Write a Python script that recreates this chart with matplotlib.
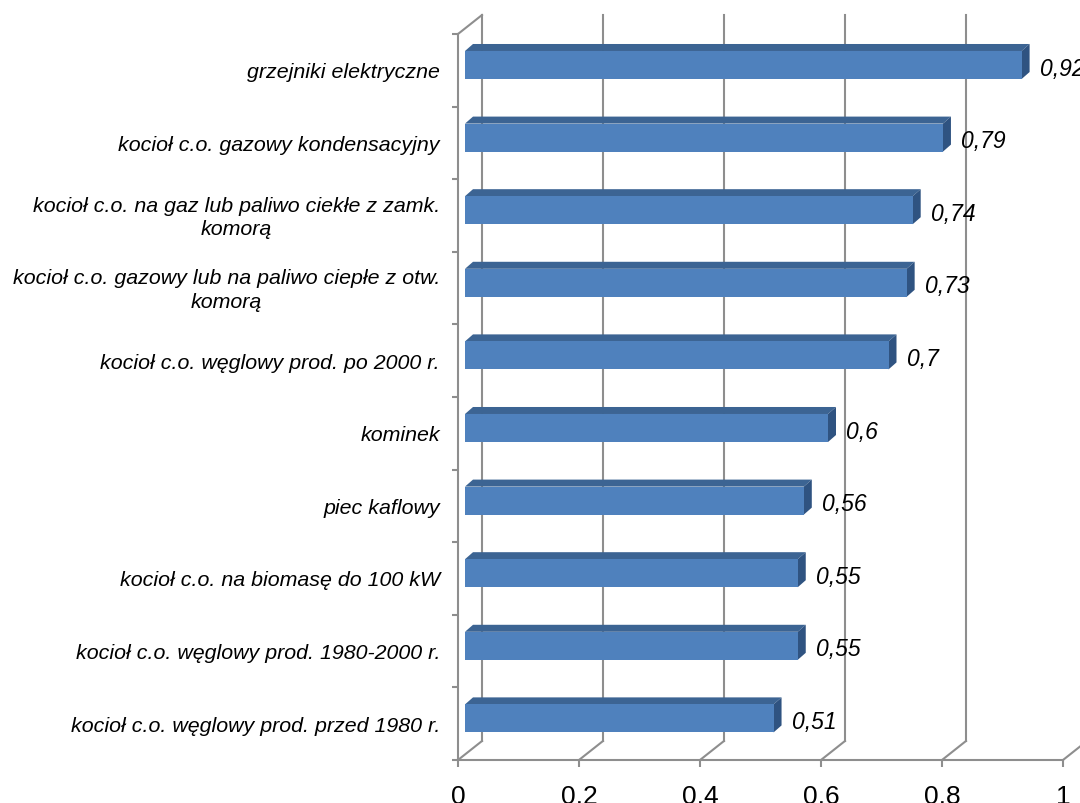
import matplotlib
matplotlib.use("Agg")
import matplotlib.pyplot as plt
from matplotlib.patches import Polygon, Rectangle

plt.rcParams['font.family'] = ['Liberation Sans', 'DejaVu Sans']

# data (bottom -> top)
labels = [
    "kocioł c.o. węglowy prod. przed 1980 r.",
    "kocioł c.o. węglowy prod. 1980-2000 r.",
    "kocioł c.o. na biomasę do 100 kW",
    "piec kaflowy",
    "kominek",
    "kocioł c.o. węglowy prod. po 2000 r.",
    "kocioł c.o. gazowy lub na paliwo ciepłe z otw.\nkomorą",
    "kocioł c.o. na gaz lub paliwo ciekłe z zamk.\nkomorą",
    "kocioł c.o. gazowy kondensacyjny",
    "grzejniki elektryczne",
]
values = [0.51, 0.55, 0.55, 0.56, 0.6, 0.7, 0.73, 0.74, 0.79, 0.92]
xticks = [0, 0.2, 0.4, 0.6, 0.8, 1.0]

grid_c = '#8E8E8E'
front_c = '#4F81BD'
top_c = '#3C6493'
side_c = '#2F5381'

W, H = 10.8, 8.04
fig = plt.figure(figsize=(W, H), dpi=100)
ax = fig.add_axes([458/1080, 43/804, 605/1080, 726/804])
ax.set_xlim(0, 1)
ax.set_ylim(-0.5, len(values) - 0.5)

ax_w = 605.0
ax_h = 726.0
def px(dx, dy):
    # pixel offsets -> data offsets
    return dx * 1.0 / ax_w, dy * len(values) / ax_h

# back wall / floor (3d look)
wx, wy = px(24, 19)
y0, y1 = -0.5, len(values) - 0.5
for v in xticks:
    ax.plot([v + wx, v + wx], [y0 + wy, y1 + wy], color=grid_c, lw=1.5, clip_on=False, zorder=1)
    ax.plot([v, v + wx], [y0, y0 + wy], color=grid_c, lw=1.5, clip_on=False, zorder=1)
ax.plot([0, wx], [y1, y1 + wy], color=grid_c, lw=1.5, clip_on=False, zorder=1)

# bars
ox, oy = px(7, 5.3)
bx, by = px(8, 7)
h = 0.386
for i, v in enumerate(values):
    b = i - h / 2 + oy
    t = i + h / 2 + oy
    ax.add_patch(Polygon([(ox, t), (ox + v, t), (ox + v + bx, t + by), (ox + bx, t + by)],
                         closed=True, facecolor=top_c, edgecolor='none', zorder=3, clip_on=False))
    ax.add_patch(Polygon([(ox + v, b), (ox + v, t), (ox + v + bx, t + by), (ox + v + bx, b + by)],
                         closed=True, facecolor=side_c, edgecolor='none', zorder=3, clip_on=False))
    ax.add_patch(Rectangle((ox, b), v, h, facecolor=front_c, edgecolor='none', zorder=4, clip_on=False))
    gx, gy = px(10, -2)
    ax.text(ox + v + bx + gx, i + oy * 0.4, f"{v:g}".replace('.', ','), fontsize=16.5,
            style='italic', ha='left', va='center', zorder=5, clip_on=False)

# category labels
lx, ly = px(-18, -1.5)
for i, lab in enumerate(labels):
    ax.text(lx, i + ly, lab, fontsize=15.4, style='italic', ha='right', va='center',
            multialignment='center', linespacing=1.3)

# axes
for s in ['top', 'right']:
    ax.spines[s].set_visible(False)
for s in ['left', 'bottom']:
    ax.spines[s].set_color(grid_c)
    ax.spines[s].set_linewidth(1.5)
    ax.spines[s].set_zorder(2)

ax.set_xticks(xticks)
ax.set_xticklabels([f"{v:g}".replace('.', ',') for v in xticks], fontsize=19)
ax.tick_params(axis='x', direction='out', length=5, width=1.5, color=grid_c, pad=12)
ax.set_yticks([])
ax.set_yticks([k - 0.5 for k in range(len(values) + 1)], minor=True)
ax.tick_params(axis='y', which='minor', direction='out', length=4.3, width=1.5, color=grid_c)
ax.patch.set_visible(False)

fig.savefig('out.png', dpi=100)
